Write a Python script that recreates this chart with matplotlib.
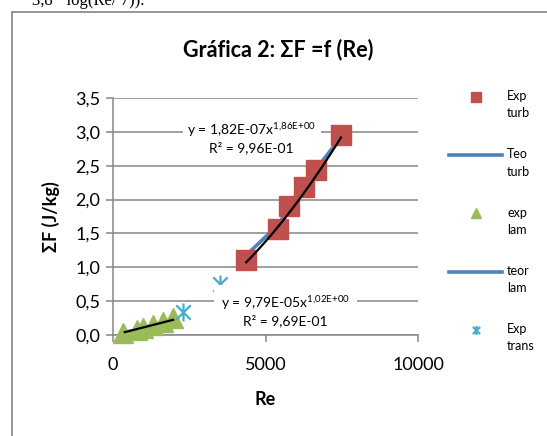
import numpy as np
import matplotlib
matplotlib.use("Agg")
import matplotlib.pyplot as plt
from matplotlib.path import Path
from matplotlib.patches import Rectangle
from matplotlib.ticker import FuncFormatter, FixedLocator
from matplotlib.legend_handler import HandlerLine2D

plt.rcParams['font.family'] = ['Lato', 'DejaVu Sans']
plt.rcParams['mathtext.fontset'] = 'custom'
plt.rcParams['mathtext.rm'] = 'Lato'
plt.rcParams['mathtext.it'] = 'Lato'

# ---- data ----
exp_turb_re = [4369, 5403, 5762, 6275, 6656, 7473]
exp_turb_f = [1.11, 1.57, 1.90, 2.19, 2.43, 2.95]
teo_turb_re = [4369, 5403, 5762, 6275, 6656, 7473]
teo_turb_f = [1.18, 1.62, 1.87, 2.22, 2.45, 2.92]
exp_lam_re = [337, 775, 990, 1317, 1644, 1971]
exp_lam_f = [0.025, 0.074, 0.099, 0.147, 0.196, 0.246]
teo_lam_re = [337, 775, 990, 1317, 1644, 1971]
teo_lam_f = [0.035, 0.075, 0.105, 0.15, 0.19, 0.235]
exp_trans_re = [2298, 3497]
exp_trans_f = [0.34, 0.76]
# trendline coefficients (power fits shown on chart)
turb_a, turb_b = 1.82e-07, 1.86
lam_a, lam_b = 9.79e-05, 1.02
y_ticks = [0.0, 0.5, 1.0, 1.5, 2.0, 2.5, 3.0, 3.5]
x_ticks = [0, 5000, 10000]

W, H = 547, 436
fig = plt.figure(figsize=(W / 100, H / 100), dpi=100)
ax = fig.add_axes([113 / W, 1 - 335 / H, (418 - 113) / W, (335 - 98) / H])

grid_c = '#868686'
c_red = '#C0504D'
c_blue = '#4F81BD'
c_green = '#9BBB59'
c_cyan = '#4BACC6'

# asterisk marker (x with vertical bar)
ast = Path([(-1, -1), (1, 1), (-1, 1), (1, -1), (0, -1.25), (0, 1.25)],
           [Path.MOVETO, Path.LINETO, Path.MOVETO, Path.LINETO, Path.MOVETO, Path.LINETO])

h1, = ax.plot(exp_turb_re, exp_turb_f, ls='none', marker='s', ms=15, color=c_red,
              mec=c_red, label='Exp\nturb', zorder=3)
h2, = ax.plot(teo_turb_re, teo_turb_f, ls='-', lw=2.6, color=c_blue, label='Teo\nturb', zorder=2)
h3, = ax.plot(exp_lam_re, exp_lam_f, ls='none', marker='^', ms=14, color=c_green,
              mec=c_green, label='exp\nlam', zorder=3, clip_on=False)
h4, = ax.plot(teo_lam_re, teo_lam_f, ls='-', lw=2.6, color=c_blue, label='teor\nlam', zorder=2)
h5, = ax.plot(exp_trans_re, exp_trans_f, ls='none', marker=ast, ms=13, mew=1.6,
              color=c_cyan, mec=c_cyan, label='Exp\ntrans', zorder=3)

# trendlines
xt = np.linspace(min(exp_turb_re), max(exp_turb_re), 100)
ax.plot(xt, turb_a * xt ** turb_b, color='black', lw=1.6, zorder=4)
xl = np.linspace(min(exp_lam_re) + 50, max(exp_lam_re), 100)
ax.plot(xl, lam_a * xl ** lam_b, color='black', lw=1.6, zorder=4)

ax.set_xlim(0, 10000)
ax.set_ylim(0, 3.5)
ax.xaxis.set_major_locator(FixedLocator(x_ticks))
ax.yaxis.set_major_locator(FixedLocator(y_ticks))
ax.yaxis.set_major_formatter(FuncFormatter(lambda v, p: f"{v:.1f}".replace('.', ',')))
ax.xaxis.set_major_formatter(FuncFormatter(lambda v, p: f"{int(v)}"))
ax.grid(axis='y', color=grid_c, lw=1.1)
ax.set_axisbelow(True)
for s in ['top', 'right']:
    ax.spines[s].set_visible(False)
for s in ['left', 'bottom']:
    ax.spines[s].set_color(grid_c)
    ax.spines[s].set_linewidth(1.1)
ax.tick_params(axis='both', colors=grid_c, labelcolor='black', labelsize=13, length=5, width=1.1)
ax.tick_params(axis='y', pad=4)
ax.tick_params(axis='x', pad=11)

ax.set_xlabel('Re', fontsize=13, fontweight='bold', labelpad=13)
ax.set_ylabel('ΣF (J/kg)', fontsize=13, fontweight='bold', labelpad=11)
fig.text(278 / W, 1 - 50 / H, 'Gráfica 2: ΣF =f (Re)', fontsize=15.5, fontweight='bold',
         ha='center', va='center')

# trendline labels
ax.text(0.455, 0.832, 'y = 1,82E-07x$^{1{,}86E{+}00}$\nR² = 9,96E-01', transform=ax.transAxes,
        fontsize=10, ha='center', va='center', multialignment='center',
        bbox=dict(facecolor='white', edgecolor='none', pad=3),
        zorder=5, linespacing=1.25)
ax.text(0.566, 0.103, 'y = 9,79E-05x$^{1{,}02E{+}00}$\nR² = 9,69E-01', transform=ax.transAxes,
        fontsize=10, ha='center', va='center', multialignment='center',
        bbox=dict(facecolor='white', edgecolor='none', pad=5),
        zorder=5, linespacing=1.25)


class UpHandler(HandlerLine2D):
    def create_artists(self, legend, orig_handle, xdescent, ydescent, width, height,
                       fontsize, trans):
        return super().create_artists(legend, orig_handle, xdescent, ydescent - 12.5,
                                      width, height, fontsize, trans)


leg = fig.legend(handles=[h1, h2, h3, h4, h5], loc='upper left',
                 bbox_to_anchor=(449 / W, 1 - 90 / H), frameon=False, fontsize=9,
                 handlelength=4.24, handletextpad=0.4, labelspacing=2.33, markerscale=0.5,
                 borderpad=0, borderaxespad=0,
                 handler_map={h: UpHandler() for h in [h1, h2, h3, h4, h5]})
for t in leg.get_texts():
    t.set_linespacing(1.52)

# chart border
fig.patches.append(Rectangle((12 / W, -0.1), 1.2, 1.1 - 12 / H, transform=fig.transFigure,
                             fill=False, edgecolor='#8c8c8c', lw=1.3))
fig.text(32 / W, 1 - 5 / H, '3,8 · log(Re/ 7)).', fontsize=12, family='Liberation Serif',
         va='baseline', ha='left')

fig.savefig('out.png', dpi=100)
